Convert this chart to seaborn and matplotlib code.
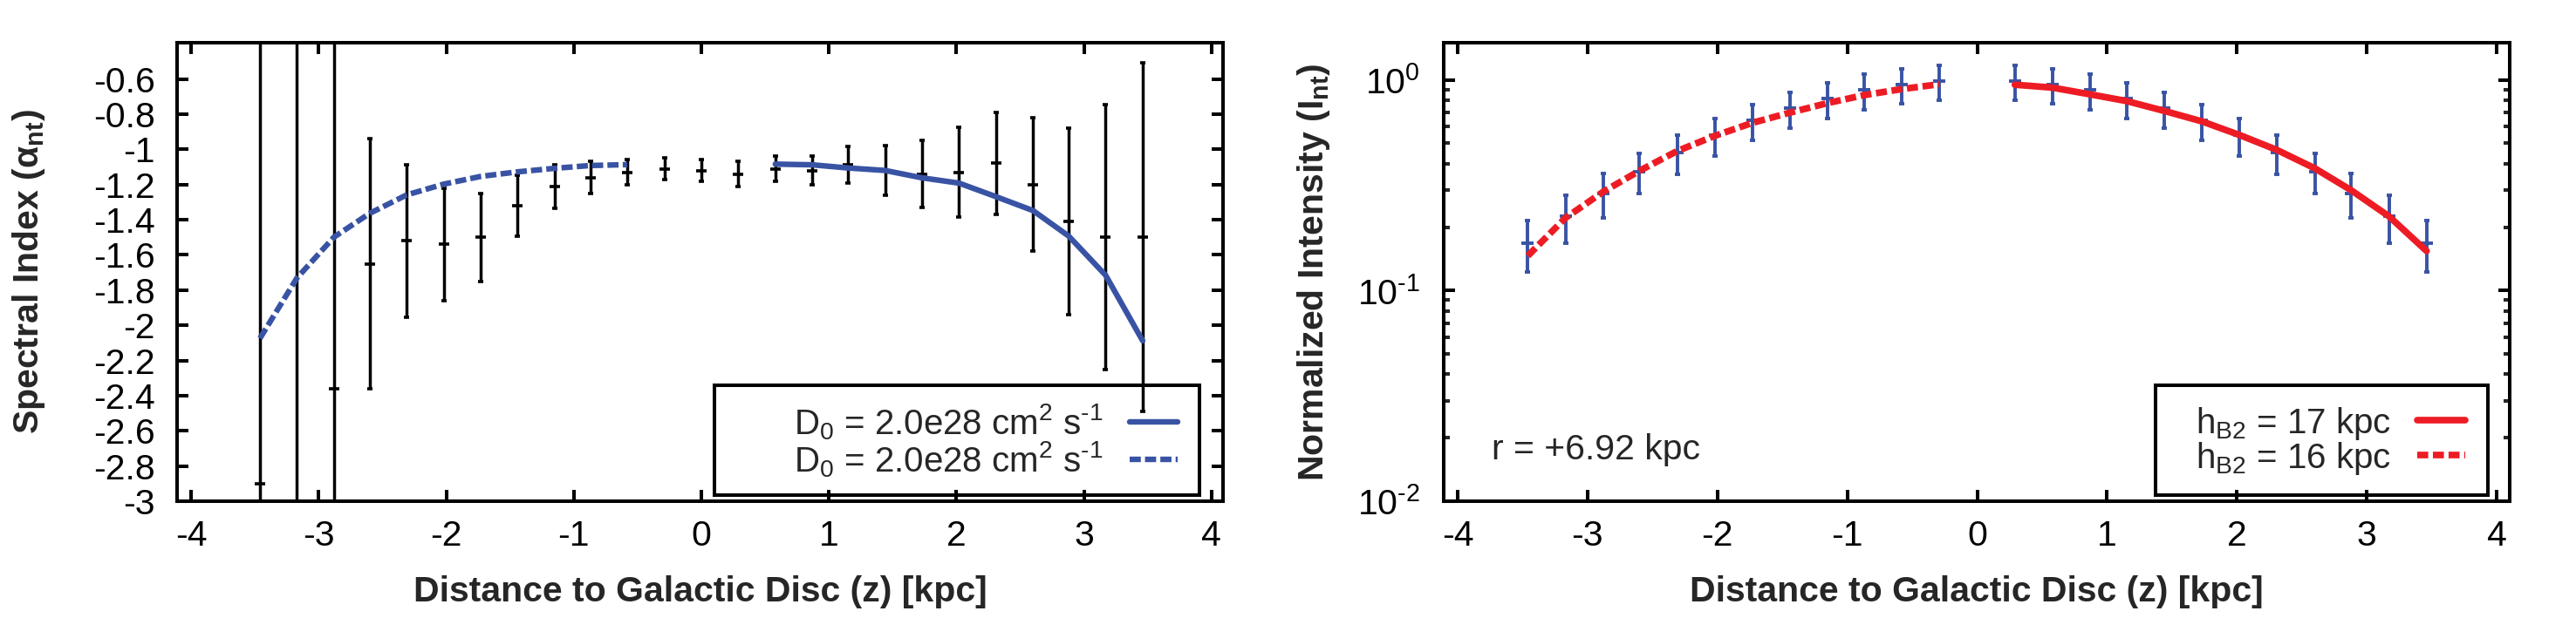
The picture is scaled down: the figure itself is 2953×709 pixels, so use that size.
import numpy as np
import matplotlib
matplotlib.use("Agg")
import matplotlib.pyplot as plt
from matplotlib.patches import Rectangle
from matplotlib.ticker import FixedLocator, FixedFormatter, LogLocator, NullFormatter
import seaborn as sns

# ---------------- data ----------------
# Left panel: spectral index
z_pts = [-3.46, -3.17, -2.88, -2.60, -2.31, -2.02, -1.73, -1.44, -1.15, -0.87, -0.58, -0.29, 0.0,
         0.29, 0.58, 0.87, 1.15, 1.44, 1.73, 2.02, 2.31, 2.60, 2.88, 3.17, 3.46]
alpha_val = [-2.90, -3.30, -2.36, -1.65, -1.52, -1.54, -1.50, -1.32, -1.21, -1.16, -1.13, -1.11, -1.12,
             -1.14, -1.11, -1.12, -1.09, -1.12, -1.14, -1.13, -1.08, -1.20, -1.41, -1.50, -1.50]
alpha_err = [2.70, 3.00, 2.20, 0.71, 0.434, 0.32, 0.25, 0.175, 0.123, 0.092, 0.071, 0.064, 0.064,
             0.072, 0.072, 0.083, 0.104, 0.143, 0.192, 0.254, 0.292, 0.38, 0.532, 0.753, 0.99]

z_model_pos = [0.58, 0.87, 1.15, 1.44, 1.73, 2.02, 2.31, 2.60, 2.88, 3.17, 3.46]
alpha_model_pos = [-1.084, -1.088, -1.106, -1.120, -1.162, -1.192, -1.269, -1.348, -1.493, -1.716, -2.088]
z_model_neg = [-3.46, -3.17, -2.88, -2.60, -2.31, -2.02, -1.73, -1.44, -1.15, -0.87, -0.58]
alpha_model_neg = [-2.074, -1.731, -1.499, -1.364, -1.259, -1.198, -1.154, -1.128, -1.108, -1.092, -1.087]

# Right panel: normalized intensity
z_int_neg = [-3.46, -3.17, -2.88, -2.60, -2.31, -2.02, -1.73, -1.44, -1.15, -0.87, -0.58, -0.29]
int_neg = [0.168, 0.225, 0.290, 0.368, 0.452, 0.544, 0.640, 0.733, 0.814, 0.895, 0.948, 0.984]
int_neg_err = [0.046, 0.057, 0.068, 0.080, 0.095, 0.111, 0.125, 0.141, 0.158, 0.172, 0.178, 0.187]
z_int_pos = [0.29, 0.58, 0.87, 1.15, 1.44, 1.73, 2.02, 2.31, 2.60, 2.88, 3.17, 3.46]
int_pos = [0.984, 0.948, 0.895, 0.814, 0.733, 0.640, 0.546, 0.452, 0.368, 0.290, 0.225, 0.168]
int_pos_err = [0.187, 0.178, 0.172, 0.158, 0.141, 0.125, 0.111, 0.095, 0.080, 0.068, 0.057, 0.046]

int_model_pos = [0.948, 0.918, 0.853, 0.793, 0.712, 0.635, 0.547, 0.464, 0.380, 0.299, 0.225, 0.154]
int_model_neg = [0.146, 0.221, 0.294, 0.370, 0.459, 0.542, 0.625, 0.699, 0.776, 0.846, 0.904, 0.953]

alpha_ticks = [-3.0, -2.8, -2.6, -2.4, -2.2, -2.0, -1.8, -1.6, -1.4, -1.2, -1.0, -0.8, -0.6]
alpha_ticklabels = ["-3", "-2.8", "-2.6", "-2.4", "-2.2", "-2", "-1.8", "-1.6", "-1.4", "-1.2", "-1", "-0.8", "-0.6"]
z_ticks = [-4, -3, -2, -1, 0, 1, 2, 3, 4]
z_ticklabels = ["-4", "-3", "-2", "-1", "0", "1", "2", "3", "4"]
int_ticks = [0.01, 0.1, 1.0]
int_ticklabels = ["$10^{\u20102}$", "$10^{\u20101}$", "$10^{0}$"]

legend_left = ["D$_0$ = 2.0e28 cm$^2$ s$^{\u20101}$", "D$_0$ = 2.0e28 cm$^2$ s$^{\u20101}$"]
legend_right = [r"h$_{\mathrm{B2}}$ = 17 kpc", r"h$_{\mathrm{B2}}$ = 16 kpc"]

# ---------------- style ----------------
sns.set_theme(style="ticks")
plt.rcParams["font.family"] = ["Liberation Sans", "DejaVu Sans"]
plt.rcParams["mathtext.fontset"] = "custom"
plt.rcParams["mathtext.rm"] = "Liberation Sans"
plt.rcParams["mathtext.it"] = "Liberation Sans:italic"
plt.rcParams["mathtext.bf"] = "Liberation Sans:bold"
plt.rcParams["mathtext.sf"] = "Liberation Sans"
plt.rcParams["axes.unicode_minus"] = False

BLUE = "#3953a4"
RED = "#ed1c24"
FS = 29.5
LW_AX = 2.9

fig = plt.figure(figsize=(29.53, 7.09), dpi=100)
ax1 = fig.add_axes([0.06874, 0.18900, 0.40603, 0.74189])
ax2 = fig.add_axes([0.56045, 0.18900, 0.41382, 0.74189])

for ax in (ax1, ax2):
    ax.set_facecolor("white")
    for s in ax.spines.values():
        s.set_linewidth(LW_AX)
        s.set_color("black")
        s.set_visible(True)

# ---------------- left panel ----------------
ax1.errorbar(z_pts, alpha_val, yerr=alpha_err, fmt="_", color="black", ecolor="black",
             elinewidth=2.5, capsize=2.2, capthick=2.6, markersize=9, markeredgewidth=2.6, zorder=2)
sns.lineplot(x=z_model_pos, y=alpha_model_pos, ax=ax1, color=BLUE, linewidth=4.6,
             label=legend_left[0], legend=False, zorder=3)
sns.lineplot(x=z_model_neg, y=alpha_model_neg, ax=ax1, color=BLUE, linewidth=4.6,
             linestyle=(0, (2.0, 0.75)), label=legend_left[1], legend=False, zorder=3)
ax1.set_xlim(-4.11, 4.09)
ax1.set_ylim(-3.0, -0.394)
ax1.yaxis.set_major_locator(FixedLocator(alpha_ticks))
ax1.yaxis.set_major_formatter(FixedFormatter(alpha_ticklabels))

# ---------------- right panel ----------------
ax2.errorbar(z_int_neg, int_neg, yerr=int_neg_err, fmt="_", color=BLUE, ecolor=BLUE,
             elinewidth=2.8, capsize=2.2, capthick=2.8, markersize=10, markeredgewidth=2.8, zorder=2)
ax2.errorbar(z_int_pos, int_pos, yerr=int_pos_err, fmt="_", color=BLUE, ecolor=BLUE,
             elinewidth=2.8, capsize=2.2, capthick=2.8, markersize=10, markeredgewidth=2.8, zorder=2)
sns.lineplot(x=z_int_pos, y=int_model_pos, ax=ax2, color=RED, linewidth=5.5,
             label=legend_right[0], legend=False, zorder=3)
sns.lineplot(x=z_int_neg, y=int_model_neg, ax=ax2, color=RED, linewidth=5.5,
             linestyle=(0, (1.65, 0.7)), label=legend_right[1], legend=False, zorder=3)
ax2.set_yscale("log")
ax2.set_xlim(-4.107, 4.10)
ax2.set_ylim(0.01, 1.5)
ax2.yaxis.set_major_locator(FixedLocator(int_ticks))
ax2.yaxis.set_major_formatter(FixedFormatter(int_ticklabels))
ax2.yaxis.set_minor_locator(LogLocator(base=10, subs=np.arange(2, 10), numticks=20))
ax2.yaxis.set_minor_formatter(NullFormatter())

for ax in (ax1, ax2):
    ax.xaxis.set_major_locator(FixedLocator(z_ticks))
    ax.xaxis.set_major_formatter(FixedFormatter(z_ticklabels))
    ax.tick_params(axis="both", which="major", direction="in", length=9.4, width=LW_AX,
                   top=True, right=True, labelsize=FS, color="black", labelcolor="black")
    ax.tick_params(axis="x", which="major", pad=15)
    ax.tick_params(axis="y", which="major", pad=18)
    ax.tick_params(axis="both", which="minor", direction="in", length=5.0, width=LW_AX,
                   top=True, right=True)
    ax.set_xlabel("Distance to Galactic Disc (z) [kpc]", fontsize=FS, fontweight="bold")
    ax.xaxis.label.set_va("center")
    ax.xaxis.set_label_coords(0.5, -0.1977)
    ax.grid(False)

ax1.set_ylabel(r"Spectral Index (α$_{\mathbf{nt}}$)", fontsize=FS, fontweight="bold")
ax1.yaxis.label.set_va("center")
ax1.yaxis.set_label_coords(-0.1418, 0.5)
ax2.set_ylabel(r"Normalized Intensity (I$_{\mathbf{nt}}$)", fontsize=FS, fontweight="bold")
ax2.yaxis.label.set_va("center")
ax2.yaxis.set_label_coords(-0.1219, 0.5)
ax2.tick_params(axis="y", which="major", pad=19.5)

ax2.text(0.045, 0.112, "r = +6.92 kpc", transform=ax2.transAxes, fontsize=FS,
         ha="left", va="center")

# ---------------- legends ----------------
def make_legend(ax, xa, rect):
    h, l = ax.get_legend_handles_labels()
    leg = ax.legend(h, l, loc="center right", bbox_to_anchor=(xa, 0.132),
                    bbox_transform=ax.transAxes, frameon=False, markerfirst=False,
                    fontsize=29, handlelength=1.37, handletextpad=0.75,
                    labelspacing=-0.05, borderpad=0, borderaxespad=0)
    ax.add_patch(Rectangle((rect[0], rect[1]), rect[2], rect[3], transform=ax.transAxes,
                           fill=False, edgecolor="black", linewidth=LW_AX, zorder=5,
                           clip_on=False))
    return leg

make_legend(ax1, 0.9566, (0.5138, 0.0133, 0.4637, 0.2396))
make_legend(ax2, 0.9583, (0.6678, 0.0133, 0.3117, 0.2396))

fig.savefig("out.png", dpi=100, facecolor="white")
